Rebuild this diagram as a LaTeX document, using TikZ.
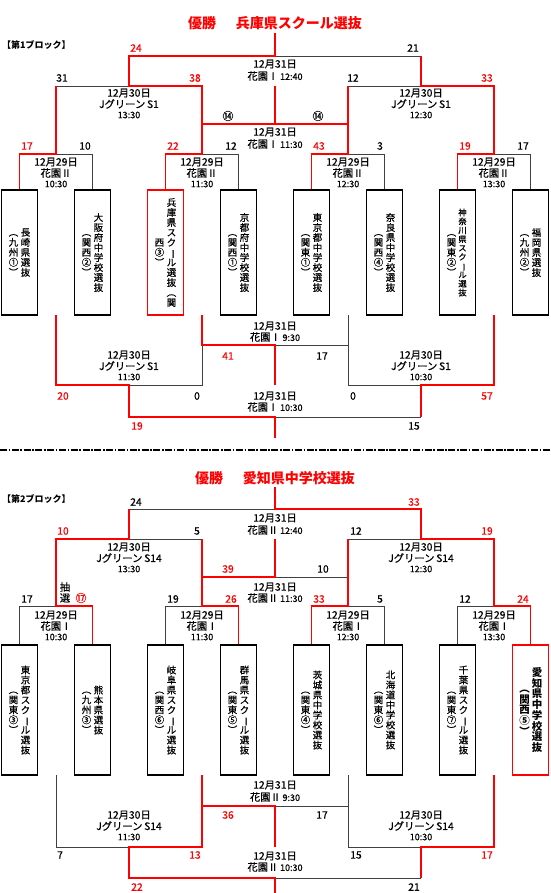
\documentclass[tikz,border=0pt]{standalone}
\usepackage{fontspec}
\setmainfont{Noto Sans CJK JP}[UprightFeatures={FakeBold=0.6}]
\lineskiplimit=-100pt
\newcommand{\vbar}{\rotatebox[origin=c]{-90}{ー}}
\newcommand{\vp}{\vphantom{国}}
\tikzset{
  gl/.style={draw=black!75, line width=0.9pt},
  rl/.style={draw=red, line width=1.8pt},
  lab/.style={inner sep=0pt, font=\fontsize{10.3}{12}\selectfont},
  tm/.style={inner sep=0pt, font=\fontsize{9}{11}\selectfont},
  scb/.style={inner sep=0pt, font=\fontsize{10.3}{12}\selectfont},
  scr/.style={scb, text=red},
  circ/.style={inner sep=0pt, font=\fontsize{11}{12}\selectfont},
  title/.style={inner sep=0pt, text=red, font=\fontsize{14}{16}\selectfont\bfseries},
  blk/.style={inner sep=0pt, anchor=west, font=\fontsize{9}{10}\selectfont\bfseries},
  teambox/.style={draw=black, line width=1.8pt, minimum width=36pt, minimum height=125pt, inner sep=0pt},
  teamboxb/.style={teambox, minimum height=130pt},
  winbox/.style={draw=red, line width=1.5pt, minimum width=36pt, minimum height=125pt, inner sep=0pt},
  winboxb/.style={winbox, minimum height=130pt},
  vt/.style={inner sep=0pt, align=center, font=\fontsize{9.5}{10}\selectfont},
  vts/.style={inner sep=0pt, align=center, font=\fontsize{8.3}{8.9}\selectfont},
  vtb/.style={inner sep=0pt, align=center, font=\fontsize{10.5}{10.7}\selectfont\bfseries},
  sep/.style={draw=black, line width=1.8pt, dash pattern=on 7pt off 1.6pt on 1.6pt off 1.6pt},
}
\newcommand{\minfo}[6]{%
  \node[lab] (#1a) at (#2,#3) {#4};
  \node[lab] (#1b) at (#2,#3+11) {#5};
  \node[tm] (#1c) at (#2,#3+22) {#6};}
\begin{document}
\begin{tikzpicture}[x=1pt,y=-1pt]
\useasboundingbox (0,0) rectangle (550,893);

%================ BLOCK 1 =================
\node[title] (t1) at (275,23) {優勝\hspace{1.4em}兵庫県スクール選抜};
\node[blk] (k1) at (2,45) {【第1ブロック】};

% team boxes
\node[teambox] (a1) at (19.5,252.5) {};
\node[teambox] (a2) at (92.5,252.5) {};
\node[winbox]  (a3) at (165.5,252.5) {};
\node[teambox] (a4) at (238.5,252.5) {};
\node[teambox] (a5) at (311.5,252.5) {};
\node[teambox] (a6) at (384.5,252.5) {};
\node[teambox] (a7) at (457.5,252.5) {};
\node[teambox] (a8) at (530.5,252.5) {};

\node[vt] (a1n) at (25.5,252.5) {\vp{}長\\崎\\県\\選\\抜\vp};
\node[vt] (a1p) at (13.5,252.5) {\vp{}︵\\九\\州\\①\\︶\vp};
\node[vt] (a2n) at (98.5,252.5) {\vp{}大\\阪\\府\\中\\学\\校\\選\\抜\vp};
\node[vt] (a2p) at (86.5,252.5) {\vp{}︵\\関\\西\\②\\︶\vp};
\node[vt] (a3n) at (171.5,252.5) {\vp{}兵\\庫\\県\\ス\\ク\\\vbar\\ル\\選\\抜\\︵\\関\vp};
\node[vt] (a3p) at (159.5,252.5) {\vp{}西\\③\\︶\vp};
\node[vt] (a4n) at (244.5,252.5) {\vp{}京\\都\\府\\中\\学\\校\\選\\抜\vp};
\node[vt] (a4p) at (232.5,252.5) {\vp{}︵\\関\\西\\①\\︶\vp};
\node[vt] (a5n) at (317.5,252.5) {\vp{}東\\京\\都\\中\\学\\校\\選\\抜\vp};
\node[vt] (a5p) at (305.5,252.5) {\vp{}︵\\関\\東\\①\\︶\vp};
\node[vt] (a6n) at (390.5,252.5) {\vp{}奈\\良\\県\\中\\学\\校\\選\\抜\vp};
\node[vt] (a6p) at (378.5,252.5) {\vp{}︵\\関\\西\\④\\︶\vp};
\node[vts] (a7n) at (462.5,252.5) {\vp{}神\\奈\\川\\県\\ス\\ク\\\vbar\\ル\\選\\抜\vp};
\node[vt] (a7p) at (451.5,252.5) {\vp{}︵\\関\\東\\②\\︶\vp};
\node[vt] (a8n) at (536.5,252.5) {\vp{}福\\岡\\県\\選\\抜\vp};
\node[vt] (a8p) at (524.5,252.5) {\vp{}︵\\九\\州\\②\\︶\vp};

% upper bracket - gray parts
\draw[gl] (56,154) -| (a2.north);
\draw[gl] (202,154) -| (a4.north);
\draw[gl] (348,154) -| (a6.north);
\draw[gl] (494,154) -| (a8.north);
\draw[gl] (56,86) -- (129,86);
\draw[gl] (348,86) -- (421,86);
\draw[gl] (275,56) -- (421,56);
% upper bracket - red parts
\draw[rl] (a1.north) |- (56,154) -- (56,86);
\draw[rl] (a3.north) |- (202,154) -- (202,86) -- (129,86) -- (129,56) -- (275,56) -- (275,33);
\draw[rl] (a5.north) |- (348,154) -- (348,86);
\draw[rl] (a7.north) |- (494,154) -- (494,86) -- (421,86) -- (421,56);
\draw[rl] (202,124) -- (348,124);
\draw[rl] (275,86) -- (275,124);

% upper labels
\node[scr] (s1) at (136,48) {24};
\node[scb] (s2) at (413,48) {21};
\node[lab] (f1a) at (275,64) {12月31日};
\node[lab] (f1b) at (275,76) {花園Ⅰ\,{\fontsize{9}{11}\selectfont 12:40}};
\node[scb] (s3) at (62,78) {31};
\node[scr] (s4) at (195,78) {38};
\node[scb] (s5) at (353,78) {12};
\node[scr] (s6) at (487,78) {33};
\minfo{sa}{129}{93}{12月30日}{Jグリーン\,S1}{13:30}
\minfo{sb}{421}{93}{12月30日}{Jグリーン\,S1}{12:30}
\node[circ] (c1) at (228,116) {⑭};
\node[circ] (c2) at (318,116) {⑭};
\node[lab] (m1a) at (275,132) {12月31日};
\node[lab] (m1b) at (275,144) {花園Ⅰ\,{\fontsize{9}{11}\selectfont 11:30}};
\node[scr] (r1) at (27,146) {17};
\node[scb] (r2) at (85,146) {10};
\node[scr] (r3) at (173,146) {22};
\node[scb] (r4) at (231,146) {12};
\node[scr] (r5) at (319,146) {43};
\node[scb] (r6) at (380,146) {3};
\node[scr] (r7) at (465,146) {19};
\node[scb] (r8) at (523,146) {17};
\minfo{ra}{56}{162}{12月29日}{花園Ⅱ}{10:30}
\minfo{rb}{202}{162}{12月29日}{花園Ⅱ}{11:30}
\minfo{rc}{348}{162}{12月29日}{花園Ⅱ}{12:30}
\minfo{rd}{494}{162}{12月29日}{花園Ⅱ}{13:30}

% lower bracket
\draw[gl] (129,385) -- (202,385) -- (202,345);
\draw[gl] (275,345) -- (348,345);
\draw[gl] (348,315) -- (348,385) -- (421,385);
\draw[gl] (421,417) -- (275,417);
\draw[rl] (56,315) -- (56,385) -- (129,385) -- (129,417) -- (275,417) -- (275,438);
\draw[rl] (202,315) -- (202,345) -- (275,345) -- (275,385);
\draw[rl] (494,315) -- (494,385) -- (421,385) -- (421,417);

\node[lab] (l1a) at (275,326) {12月31日};
\node[lab] (l1b) at (275,337) {花園Ⅰ\,{\fontsize{9}{11}\selectfont 9:30}};
\node[scr] (q1) at (228,356) {41};
\node[scb] (q2) at (322,356) {17};
\minfo{la}{129}{355}{12月30日}{Jグリーン\,S1}{11:30}
\minfo{lb}{421}{355}{12月30日}{Jグリーン\,S1}{10:30}
\node[scr] (q3) at (63,396) {20};
\node[scb] (q4) at (197,396) {0};
\node[scb] (q5) at (353,396) {0};
\node[scr] (q6) at (487,396) {57};
\node[lab] (l2a) at (275,396) {12月31日};
\node[lab] (l2b) at (275,407) {花園Ⅰ\,{\fontsize{9}{11}\selectfont 10:30}};
\node[scr] (q7) at (137,426) {19};
\node[scb] (q8) at (414,426) {15};

% separator
\draw[sep] (0,450) -- (550,450);

%================ BLOCK 2 =================
\node[title] (t2) at (275,478) {優勝\hspace{1.4em}愛知県中学校選抜};
\node[blk] (k2) at (2,499) {【第2ブロック】};

\node[teamboxb] (b1) at (19.5,710) {};
\node[teamboxb] (b2) at (92.5,710) {};
\node[teamboxb] (b3) at (165.5,710) {};
\node[teamboxb] (b4) at (238.5,710) {};
\node[teamboxb] (b5) at (311.5,710) {};
\node[teamboxb] (b6) at (384.5,710) {};
\node[teamboxb] (b7) at (457.5,710) {};
\node[winboxb]  (b8) at (530.5,710) {};

\node[vt] (b1n) at (25.5,710) {\vp{}東\\京\\都\\ス\\ク\\\vbar\\ル\\選\\抜\vp};
\node[vt] (b1p) at (13.5,710) {\vp{}︵\\関\\東\\③\\︶\vp};
\node[vt] (b2n) at (98.5,710) {\vp{}熊\\本\\県\\選\\抜\vp};
\node[vt] (b2p) at (86.5,710) {\vp{}︵\\九\\州\\③\\︶\vp};
\node[vt] (b3n) at (171.5,710) {\vp{}岐\\阜\\県\\ス\\ク\\\vbar\\ル\\選\\抜\vp};
\node[vt] (b3p) at (159.5,710) {\vp{}︵\\関\\西\\⑥\\︶\vp};
\node[vt] (b4n) at (244.5,710) {\vp{}群\\馬\\県\\ス\\ク\\\vbar\\ル\\選\\抜\vp};
\node[vt] (b4p) at (232.5,710) {\vp{}︵\\関\\東\\⑤\\︶\vp};
\node[vt] (b5n) at (317.5,710) {\vp{}茨\\城\\県\\中\\学\\校\\選\\抜\vp};
\node[vt] (b5p) at (305.5,710) {\vp{}︵\\関\\東\\④\\︶\vp};
\node[vt] (b6n) at (390.5,710) {\vp{}北\\海\\道\\中\\学\\校\\選\\抜\vp};
\node[vt] (b6p) at (378.5,710) {\vp{}︵\\関\\東\\⑥\\︶\vp};
\node[vt] (b7n) at (463.5,710) {\vp{}千\\葉\\県\\ス\\ク\\\vbar\\ル\\選\\抜\vp};
\node[vt] (b7p) at (451.5,710) {\vp{}︵\\関\\東\\⑦\\︶\vp};
\node[vtb] (b8n) at (537,710) {\vp{}愛\\知\\県\\中\\学\\校\\選\\抜\vp};
\node[vtb] (b8p) at (524.5,710) {\vp{}︵\\関\\西\\⑤\\︶\vp};

% upper bracket
\draw[gl] (b1.north) |- (56,606);
\draw[gl] (b3.north) |- (202,606);
\draw[gl] (348,606) -| (b6.north);
\draw[gl] (b7.north) |- (494,606);
\draw[gl] (129,539) -- (202,539);
\draw[gl] (348,539) -- (421,539);
\draw[gl] (129,509) -- (275,509);
\draw[gl] (275,577) -- (348,577);
\draw[rl] (b2.north) |- (56,606) -- (56,539) -- (129,539) -- (129,509);
\draw[rl] (b4.north) |- (202,606) -- (202,539);
\draw[rl] (b5.north) |- (348,606) -- (348,539);
\draw[rl] (b8.north) |- (494,606) -- (494,539) -- (421,539) -- (421,509) -- (275,509) -- (275,487);
\draw[rl] (202,577) -- (275,577) -- (275,539);

\node[scb] (u1) at (136,502) {24};
\node[scr] (u2) at (414,502) {33};
\node[lab] (f2a) at (275,518) {12月31日};
\node[lab] (f2b) at (275,530) {花園Ⅱ\,{\fontsize{9}{11}\selectfont 12:40}};
\node[scr] (u3) at (63,531) {10};
\node[scb] (u4) at (197,531) {5};
\node[scb] (u5) at (356,531) {12};
\node[scr] (u6) at (487,531) {19};
\minfo{ta}{129}{547}{12月30日}{Jグリーン\,S14}{13:30}
\minfo{tb}{421}{547}{12月30日}{Jグリーン\,S14}{12:30}
\node[scr] (u7) at (228,569) {39};
\node[scb] (u8) at (323,569) {10};
\node[lab] (m2a) at (275,587) {12月31日};
\node[lab] (m2b) at (275,598) {花園Ⅱ\,{\fontsize{9}{11}\selectfont 11:30}};
\node[scb] (v1) at (27,599) {17};
\node[lab] (dr1) at (65,587) {抽};
\node[lab] (dr2) at (65,598) {選};
\node[circ, text=red] (v2) at (81,598) {⑰};
\node[scb] (v3) at (173,599) {19};
\node[scr] (v4) at (231,599) {26};
\node[scr] (v5) at (319,599) {33};
\node[scb] (v6) at (380,599) {5};
\node[scb] (v7) at (465,599) {12};
\node[scr] (v8) at (523,599) {24};
\minfo{wa}{56}{615}{12月29日}{花園Ⅰ}{10:30}
\minfo{wb}{202}{615}{12月29日}{花園Ⅰ}{11:30}
\minfo{wc}{348}{615}{12月29日}{花園Ⅰ}{12:30}
\minfo{wd}{494}{615}{12月29日}{花園Ⅰ}{13:30}

% lower bracket
\draw[gl] (56,775) -- (56,847) -- (129,847);
\draw[gl] (275,806) -- (348,806);
\draw[gl] (348,775) -- (348,847) -- (421,847);
\draw[gl] (421,878) -- (275,878);
\draw[rl] (202,775) -- (202,847) -- (129,847) -- (129,878) -- (275,878) -- (275,893);
\draw[rl] (202,806) -- (275,806) -- (275,847);
\draw[rl] (494,775) -- (494,847) -- (421,847) -- (421,878);

\node[lab] (l3a) at (275,785) {12月31日};
\node[lab] (l3b) at (275,797) {花園Ⅱ\,{\fontsize{9}{11}\selectfont 9:30}};
\node[scr] (x1) at (228,815) {36};
\node[scb] (x2) at (322,815) {17};
\minfo{ya}{129}{815}{12月30日}{Jグリーン\,S14}{11:30}
\minfo{yb}{421}{815}{12月30日}{Jグリーン\,S14}{10:30}
\node[scb] (x3) at (60,855) {7};
\node[scr] (x4) at (195,855) {13};
\node[scb] (x5) at (356,855) {15};
\node[scr] (x6) at (487,855) {17};
\node[lab] (l4a) at (275,856) {12月31日};
\node[lab] (l4b) at (275,867) {花園Ⅱ\,{\fontsize{9}{11}\selectfont 10:30}};
\node[scr] (x7) at (137,887) {22};
\node[scb] (x8) at (414,887) {21};
\end{tikzpicture}
\end{document}
